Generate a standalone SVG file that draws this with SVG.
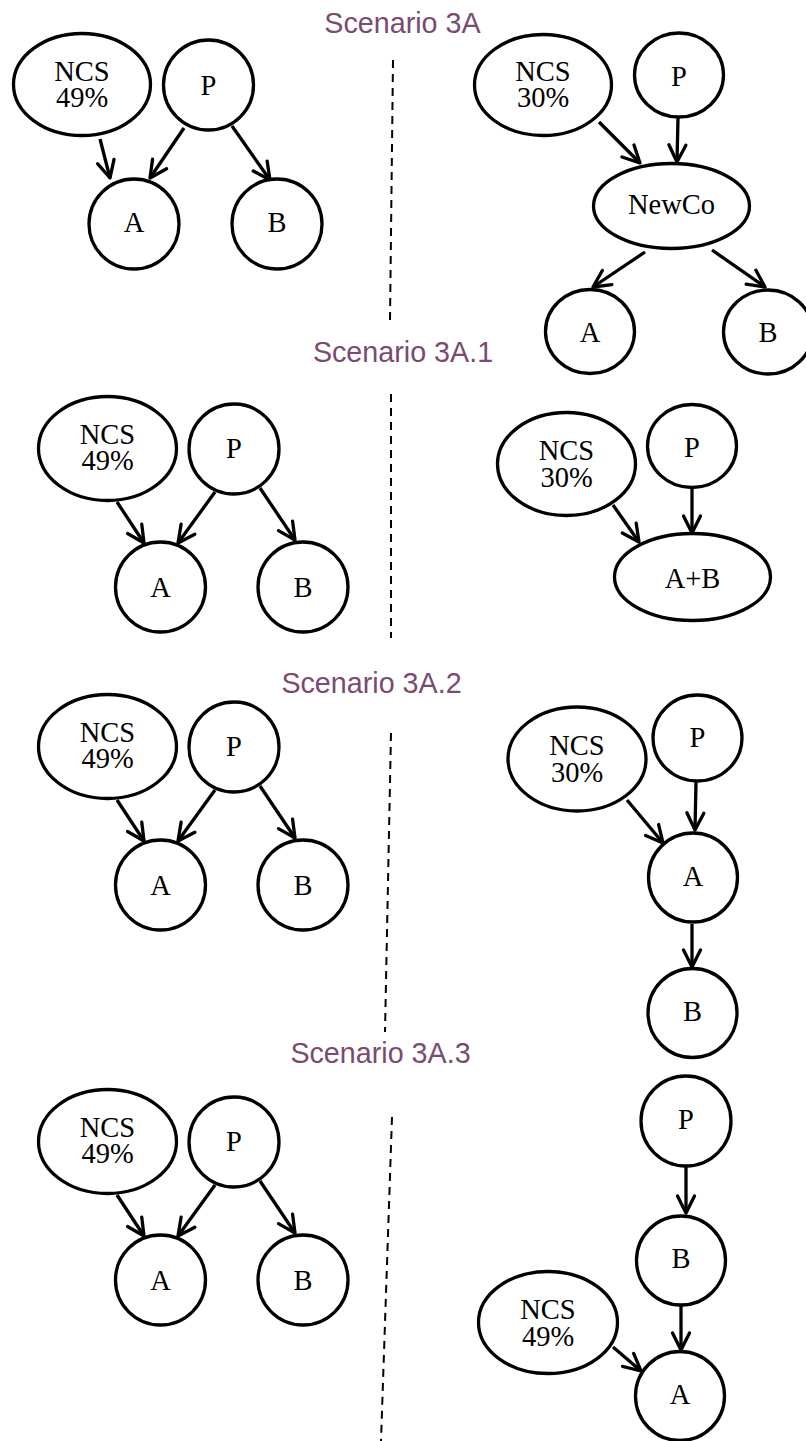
<svg xmlns="http://www.w3.org/2000/svg" width="806" height="1441" viewBox="0 0 806 1441">
<style>
.nd{fill:#fff;stroke:#000;stroke-width:3.3}
.lb{font-family:"Liberation Serif","Times New Roman",serif;font-size:28.5px;text-anchor:middle;fill:#000}
.tt{font-family:"Liberation Sans",Arial,sans-serif;font-size:28.7px;text-anchor:middle;fill:#7a4b6e}
.ed{fill:none;stroke:#000;stroke-width:3.3;marker-end:url(#ah)}
.dv{fill:none;stroke:#000;stroke-width:2;stroke-dasharray:8 6}
</style>
<defs>
<marker id="ah" markerUnits="userSpaceOnUse" orient="auto" refX="0" refY="0" markerWidth="20" markerHeight="20" overflow="visible">
<path d="M-17,-8.5 L0,0 L-17,8.5" fill="none" stroke="#000" stroke-width="3.3" stroke-linecap="round" stroke-linejoin="round"/>
</marker>
</defs>
<g id="titles">
<text class="tt" x="402.5" y="33">Scenario 3A</text>
<text class="tt" x="403" y="362">Scenario 3A.1</text>
<text class="tt" x="371.5" y="693">Scenario 3A.2</text>
<text class="tt" x="380.5" y="1063">Scenario 3A.3</text>
</g>
<g id="dividers">
<line class="dv" x1="393" y1="60" x2="390" y2="320"/>
<line class="dv" x1="391" y1="394" x2="391" y2="638"/>
<line class="dv" x1="391" y1="733" x2="385" y2="1032"/>
<line class="dv" x1="392" y1="1117" x2="381" y2="1441"/>
</g>
<g id="connectors">
<line class="ed" x1="100" y1="139" x2="110" y2="178"/>
<line class="ed" x1="184" y1="128" x2="150" y2="178"/>
<line class="ed" x1="232" y1="126" x2="270" y2="180"/>
<line class="ed" x1="599" y1="122" x2="640" y2="163"/>
<line class="ed" x1="678" y1="118" x2="677" y2="162"/>
<line class="ed" x1="645" y1="252" x2="593" y2="287"/>
<line class="ed" x1="712" y1="250" x2="765" y2="287"/>
<line class="ed" x1="117" y1="502" x2="144" y2="543"/>
<line class="ed" x1="215" y1="492" x2="178" y2="543"/>
<line class="ed" x1="260" y1="488" x2="295" y2="540"/>
<line class="ed" x1="613" y1="505" x2="639" y2="542"/>
<line class="ed" x1="692" y1="488" x2="692" y2="533"/>
<line class="ed" x1="117" y1="800" x2="144" y2="841"/>
<line class="ed" x1="215" y1="790" x2="178" y2="841"/>
<line class="ed" x1="260" y1="786" x2="295" y2="838"/>
<line class="ed" x1="627" y1="800" x2="663" y2="843"/>
<line class="ed" x1="696" y1="782" x2="695" y2="830"/>
<line class="ed" x1="692" y1="924" x2="692" y2="967"/>
<line class="ed" x1="117" y1="1195" x2="144" y2="1236"/>
<line class="ed" x1="215" y1="1185" x2="178" y2="1236"/>
<line class="ed" x1="260" y1="1181" x2="295" y2="1233"/>
<line class="ed" x1="686" y1="1167" x2="686" y2="1213"/>
<line class="ed" x1="681" y1="1306" x2="681" y2="1350"/>
<line class="ed" x1="613" y1="1347" x2="641" y2="1371"/>
</g>
<g id="s3a-l-ncs"><ellipse class="nd" cx="82" cy="84.5" rx="68.5" ry="51"/><text class="lb" x="82" y="81">NCS</text><text class="lb" x="82" y="107">49%</text></g>
<g id="s3a-l-p"><circle class="nd" cx="208.5" cy="85" r="45"/><text class="lb" x="208.5" y="95">P</text></g>
<g id="s3a-l-a"><circle class="nd" cx="134" cy="224" r="45"/><text class="lb" x="134" y="232">A</text></g>
<g id="s3a-l-b"><circle class="nd" cx="277" cy="224" r="45"/><text class="lb" x="277" y="232">B</text></g>
<g id="s3a-r-ncs"><ellipse class="nd" cx="543" cy="85" rx="68.5" ry="50.5"/><text class="lb" x="543" y="81">NCS</text><text class="lb" x="543" y="107">30%</text></g>
<g id="s3a-r-p"><ellipse class="nd" cx="679" cy="75" rx="44.5" ry="42"/><text class="lb" x="679" y="86">P</text></g>
<g id="s3a-r-newco"><ellipse class="nd" cx="671.5" cy="206" rx="78" ry="42.5"/><text class="lb" x="671.5" y="214">NewCo</text></g>
<g id="s3a-r-a"><ellipse class="nd" cx="590" cy="331.5" rx="44.5" ry="42"/><text class="lb" x="590" y="342">A</text></g>
<g id="s3a-r-b"><ellipse class="nd" cx="768" cy="332" rx="44.5" ry="42"/><text class="lb" x="768" y="342">B</text></g>
<g id="s3a1-l-ncs"><ellipse class="nd" cx="107.5" cy="448.5" rx="69" ry="52"/><text class="lb" x="107.5" y="444">NCS</text><text class="lb" x="107.5" y="470">49%</text></g>
<g id="s3a1-l-p"><circle class="nd" cx="234" cy="449" r="45"/><text class="lb" x="234" y="458">P</text></g>
<g id="s3a1-l-a"><circle class="nd" cx="160.5" cy="587" r="45"/><text class="lb" x="160.5" y="597">A</text></g>
<g id="s3a1-l-b"><circle class="nd" cx="303" cy="587" r="45"/><text class="lb" x="303" y="597">B</text></g>
<g id="s3a1-r-ncs"><ellipse class="nd" cx="566.5" cy="464" rx="69" ry="51.5"/><text class="lb" x="566.5" y="460">NCS</text><text class="lb" x="566.5" y="487">30%</text></g>
<g id="s3a1-r-p"><ellipse class="nd" cx="692" cy="446" rx="44.5" ry="41.5"/><text class="lb" x="692" y="457">P</text></g>
<g id="s3a1-r-ab"><ellipse class="nd" cx="692.5" cy="577" rx="78" ry="43.5"/><text class="lb" x="692.5" y="588">A+B</text></g>
<g id="s3a2-l-ncs"><ellipse class="nd" cx="107.5" cy="746.5" rx="69" ry="52"/><text class="lb" x="107.5" y="742">NCS</text><text class="lb" x="107.5" y="768">49%</text></g>
<g id="s3a2-l-p"><circle class="nd" cx="234" cy="747" r="45"/><text class="lb" x="234" y="756">P</text></g>
<g id="s3a2-l-a"><circle class="nd" cx="160.5" cy="885" r="45"/><text class="lb" x="160.5" y="895">A</text></g>
<g id="s3a2-l-b"><circle class="nd" cx="303" cy="885" r="45"/><text class="lb" x="303" y="895">B</text></g>
<g id="s3a2-r-ncs"><ellipse class="nd" cx="577" cy="759" rx="69" ry="52"/><text class="lb" x="577" y="755">NCS</text><text class="lb" x="577" y="782">30%</text></g>
<g id="s3a2-r-p"><ellipse class="nd" cx="697.5" cy="738" rx="44.5" ry="43"/><text class="lb" x="697.5" y="747">P</text></g>
<g id="s3a2-r-a"><circle class="nd" cx="693" cy="877.5" r="44.5"/><text class="lb" x="693" y="886">A</text></g>
<g id="s3a2-r-b"><circle class="nd" cx="692.5" cy="1013" r="44.5"/><text class="lb" x="692.5" y="1021">B</text></g>
<g id="s3a3-l-ncs"><ellipse class="nd" cx="107.5" cy="1141.5" rx="69" ry="52"/><text class="lb" x="107.5" y="1137">NCS</text><text class="lb" x="107.5" y="1163">49%</text></g>
<g id="s3a3-l-p"><circle class="nd" cx="234" cy="1142" r="45"/><text class="lb" x="234" y="1151">P</text></g>
<g id="s3a3-l-a"><circle class="nd" cx="160.5" cy="1280" r="45"/><text class="lb" x="160.5" y="1290">A</text></g>
<g id="s3a3-l-b"><circle class="nd" cx="303" cy="1280" r="45"/><text class="lb" x="303" y="1290">B</text></g>
<g id="s3a3-r-p"><circle class="nd" cx="686" cy="1121" r="45"/><text class="lb" x="686" y="1129">P</text></g>
<g id="s3a3-r-b"><circle class="nd" cx="681" cy="1260.5" r="44.5"/><text class="lb" x="681" y="1268">B</text></g>
<g id="s3a3-r-ncs"><ellipse class="nd" cx="548" cy="1322.5" rx="69.5" ry="51"/><text class="lb" x="548" y="1319">NCS</text><text class="lb" x="548" y="1346">49%</text></g>
<g id="s3a3-r-a"><circle class="nd" cx="680" cy="1396" r="44.5"/><text class="lb" x="680" y="1404">A</text></g>
</svg>
